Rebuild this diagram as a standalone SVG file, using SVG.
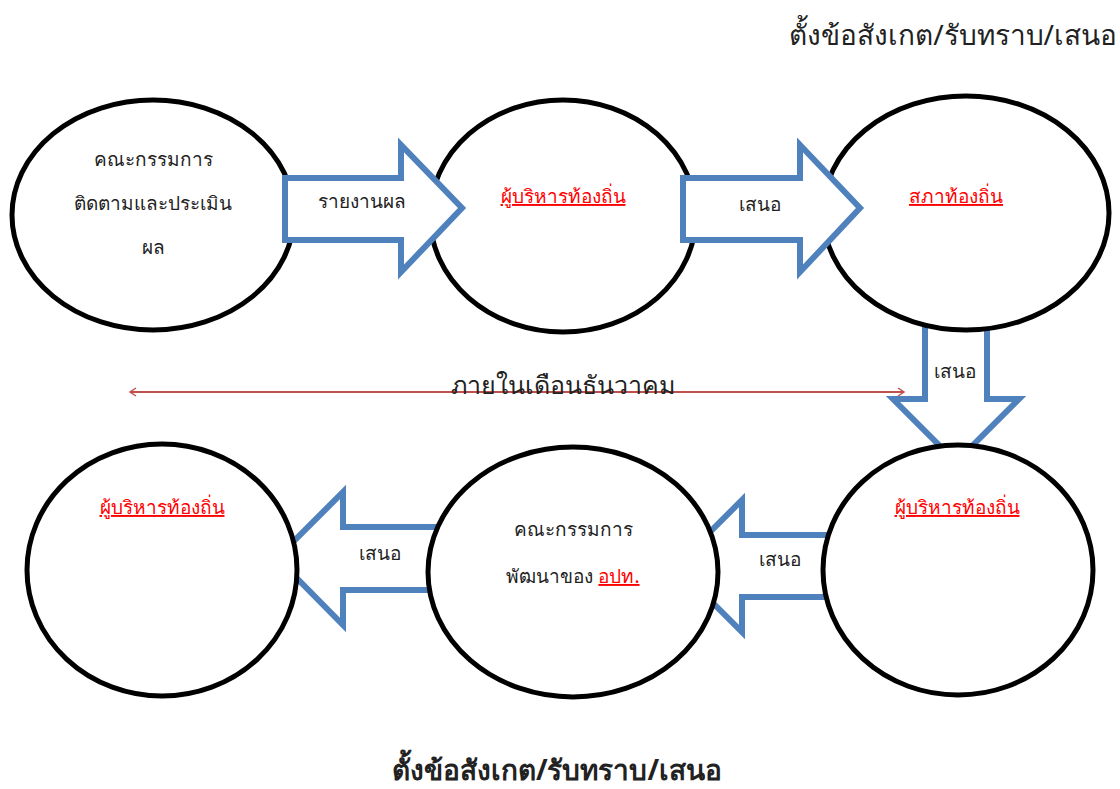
<svg xmlns="http://www.w3.org/2000/svg" width="1120" height="789" viewBox="0 0 1120 789">
<style>
text{font-family:"Noto Sans","DejaVu Sans",sans-serif;fill:#222}
.node{fill:#fff;stroke:#000;stroke-width:5}
.blk{fill:#fff;stroke:#4f81bd;stroke-width:6}
.lbl{font-size:19px;text-anchor:middle}
.red{fill:#ff0000;text-decoration:underline}
.big{font-size:28px}
</style>
<defs>
<marker id="ah" markerWidth="10" markerHeight="10" refX="8" refY="5" orient="auto-start-reverse" markerUnits="userSpaceOnUse">
<path d="M2,1 L8,5 L2,9" fill="none" stroke="#c0504d" stroke-width="1.5"/>
</marker>
</defs>
<rect width="1120" height="789" fill="#fff"/>
<g id="connectors-back">
<polygon class="blk" points="925,320 987,320 987,399 1019,399 956,462 893,399 925,399"/>
<polygon class="blk" points="835,535 742,535 742,500 676,566 742,632 742,597 835,597"/>
<polygon class="blk" points="440,527 343,527 343,492 277,558 343,625 343,590 440,590"/>
</g>
<g id="n1"><ellipse class="node" cx="153" cy="215" rx="141" ry="115"/>
<text class="lbl" x="153" y="166">คณะกรรมการ</text>
<text class="lbl" x="153" y="210">ติดตามและประเมิน</text>
<text class="lbl" x="153" y="254">ผล</text></g>
<g id="n2"><ellipse class="node" cx="563" cy="216" rx="133" ry="116"/>
<text class="lbl red" x="563" y="203">ผู้บริหารท้องถิ่น</text></g>
<g id="n3"><ellipse class="node" cx="966" cy="213" rx="143" ry="117"/>
<text class="lbl red" x="956" y="203">สภาท้องถิ่น</text></g>
<g id="n4"><ellipse class="node" cx="162" cy="570" rx="135" ry="126"/>
<text class="lbl red" x="162" y="514">ผู้บริหารท้องถิ่น</text></g>
<g id="n5"><ellipse class="node" cx="573" cy="572" rx="145" ry="125"/>
<text class="lbl" x="573" y="536">คณะกรรมการ</text>
<text class="lbl" x="573" y="583">พัฒนาของ <tspan class="red">อปท.</tspan></text></g>
<g id="n6"><ellipse class="node" cx="958" cy="570" rx="135" ry="125"/>
<text class="lbl red" x="957" y="514">ผู้บริหารท้องถิ่น</text></g>
<g id="connectors">
<polygon class="blk" points="285,178 401,178 401,145 462,208 401,272 401,240 285,240"/>
<polygon class="blk" points="683,178 800,178 800,145 860,208 800,272 800,240 683,240"/>
<line x1="130" y1="392" x2="904" y2="392" stroke="#c0504d" stroke-width="2" marker-start="url(#ah)" marker-end="url(#ah)"/>
</g>
<g id="labels">
<text class="lbl" x="362" y="208">รายงานผล</text>
<text class="lbl" x="760" y="211">เสนอ</text>
<text class="lbl" x="955" y="378">เสนอ</text>
<text class="lbl" x="380" y="560">เสนอ</text>
<text class="lbl" x="780" y="566">เสนอ</text>
<text x="563" y="394" font-size="25" text-anchor="middle">ภายในเดือนธันวาคม</text>
<text class="big" x="1117" y="45" text-anchor="end">ตั้งข้อสังเกต/รับทราบ/เสนอ</text>
<text class="big" x="557" y="780" text-anchor="middle" font-weight="bold">ตั้งข้อสังเกต/รับทราบ/เสนอ</text>
</g>
</svg>
